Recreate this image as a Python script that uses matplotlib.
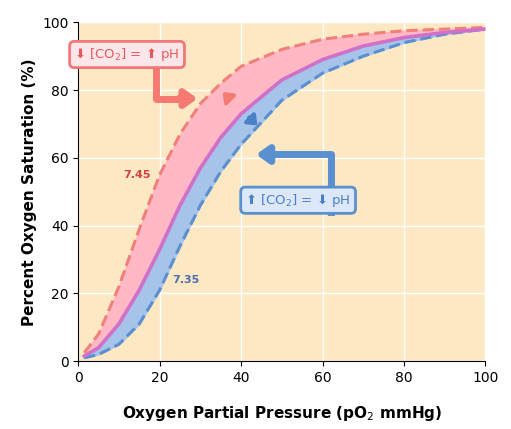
import numpy as np
import matplotlib.pyplot as plt

po2 = [1.5, 5, 10, 15, 20, 25, 30, 35, 40, 50, 60, 70, 80, 90, 100]
sat_mid = [1.5, 4, 11, 21, 33, 46, 57, 66, 73, 83, 89, 93, 95.5, 97, 98]
sat_left = [2.5, 8, 22, 39, 55, 67, 76, 82, 87, 92, 95, 96.5, 97.5, 98, 98.5]
sat_right = [1, 2, 5, 11, 21, 34, 46, 56, 64, 77, 85, 90, 94, 96.5, 98]

fig = plt.figure(figsize=(5.11, 4.29), dpi=100)
ax = fig.add_axes([0.153, 0.158, 0.797, 0.79])
ax.set_facecolor('#fde8c4')
ax.grid(True, color='white', lw=1)
ax.set_axisbelow(True)
ax.fill_between(po2, sat_left, sat_mid, color='#ffb8c4', zorder=2)
ax.fill_between(po2, sat_mid, sat_right, color='#a6c4ea', zorder=2)
ax.plot(po2, sat_left, '--', color='#f2807a', lw=2.2, zorder=3)
ax.plot(po2, sat_right, '--', color='#5a8fd0', lw=2.2, zorder=3)
ax.plot(po2, sat_mid, '-', color='#d070c8', lw=2.6, zorder=4)
ax.set_xlim(0, 100); ax.set_ylim(0, 100)
ax.set_xticks(range(0, 101, 20)); ax.set_yticks(range(0, 101, 20))
for s in ['top', 'right']:
    ax.spines[s].set_visible(False)
ax.tick_params(labelsize=10)
ax.set_xlabel('Oxygen Partial Pressure (pO$_2$ mmHg)', fontsize=11, fontweight='bold', labelpad=14)
ax.set_ylabel('Percent Oxygen Saturation (%)', fontsize=11, fontweight='bold')
ax.text(11, 54, '7.45', color='#d84040', fontsize=8, fontweight='bold', zorder=5)
ax.text(23, 23, '7.35', color='#4a70b0', fontsize=8, fontweight='bold', zorder=5)
ax.text(12, 90.5, '⬇ [CO$_2$] = ⬆ pH', color='#e85a5a', fontsize=9.5, ha='center', va='center', zorder=7,
        bbox=dict(boxstyle='round,pad=0.35', fc='#fde6ea', ec='#f07878', lw=2))
ax.text(54, 47.5, '⬆ [CO$_2$] = ⬇ pH', color='#4a80c8', fontsize=9.5, ha='center', va='center', zorder=7,
        bbox=dict(boxstyle='round,pad=0.35', fc='#dce8f8', ec='#5a8fd0', lw=2))
red, blue = '#f47a72', '#5a8fd0'
ax.plot([19, 19, 25], [86, 77.5, 77.5], color=red, lw=5, solid_joinstyle='round', zorder=6)
ax.annotate('', xy=(30, 77.5), xytext=(24, 77.5), zorder=6,
            arrowprops=dict(arrowstyle='-|>,head_width=0.5,head_length=0.7', color=red, lw=5))
ax.plot([62, 62, 48], [44, 61, 61], color=blue, lw=5, solid_joinstyle='round', zorder=6)
ax.annotate('', xy=(43, 61), xytext=(49, 61), zorder=6,
            arrowprops=dict(arrowstyle='-|>,head_width=0.5,head_length=0.7', color=blue, lw=5))
ax.annotate('', xy=(35, 80), xytext=(37.5, 77), zorder=6,
            arrowprops=dict(arrowstyle='-|>,head_width=0.4,head_length=0.5', color=red, lw=3))
ax.annotate('', xy=(44.5, 69), xytext=(41.5, 72.5), zorder=6,
            arrowprops=dict(arrowstyle='-|>,head_width=0.4,head_length=0.5', color='#4a80c8', lw=3))
fig.savefig('out.png', dpi=100, facecolor='white')
